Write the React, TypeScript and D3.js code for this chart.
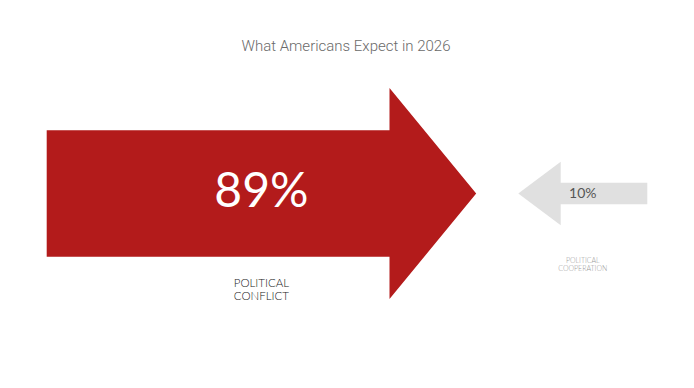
import React from "react";
import * as d3 from "d3";

const title = "What Americans Expect in 2026";
const categories = ["POLITICAL CONFLICT", "POLITICAL COOPERATION"];
const labelLines = [["POLITICAL", "CONFLICT"], ["POLITICAL", "COOPERATION"]];
const values = [89, 10];
const directions = ["right", "left"];
const colors = ["#b31b1b", "#e0e0e0"];

const W = 694;
const H = 388;

export default function App() {
  const ext = d3.extent(values) as [number, number];
  const lengthScale = d3.scaleLinear().domain(ext).range([129, 429.5]);
  const thickScale = d3.scaleLinear().domain(ext).range([21.6, 126.7]);
  const headHScale = d3.scaleLinear().domain(ext).range([63.3, 211]);
  const headLScale = d3.scaleLinear().domain(ext).range([42.4, 86.7]);
  const cy = 193.5;
  const anchors = [46.7, 647.3];

  const line = d3.line<[number, number]>();

  const arrows = values.map((v, i) => {
    const dir = directions[i] === "right" ? 1 : -1;
    const x0 = anchors[i];
    const len = lengthScale(v);
    const th = thickScale(v) / 2;
    const hh = headHScale(v) / 2;
    const hl = headLScale(v);
    const tip = x0 + dir * len;
    const base = tip - dir * hl;
    const pts: [number, number][] = [
      [x0, cy - th],
      [base, cy - th],
      [base, cy - hh],
      [tip, cy],
      [base, cy + hh],
      [base, cy + th],
      [x0, cy + th],
    ];
    return { d: line(pts) + "Z", mid: (x0 + tip) / 2, v, i };
  });

  return (
    <svg width={W} height={H} style={{ position: "absolute", left: 0, top: 0, background: "#fff" }}>
      <text x={346} y={51} textAnchor="middle" fontFamily="Roboto, sans-serif" fontWeight={300} fontSize={15} fill="#6a6a6a">
        {title}
      </text>
      {arrows.map((a) => (
        <g key={categories[a.i]}>
          <path d={a.d} fill={colors[a.i]} />
          {a.i === 0 ? (
            <text x={a.mid} y={207} textAnchor="middle" fontFamily="Lato, sans-serif" fontWeight={400} fontSize={48} fill="#ffffff">
              {a.v}%
            </text>
          ) : (
            <text x={a.mid} y={198} textAnchor="middle" fontFamily="Lato, sans-serif" fontWeight={400} fontSize={14} fill="#555">
              {a.v}%
            </text>
          )}
          {labelLines[a.i].map((l, k) =>
            a.i === 0 ? (
              <text key={l} x={a.mid} y={287 + k * 13} textAnchor="middle" fontFamily="Lato, sans-serif" fontWeight={300} fontSize={11.5} fill="#222">
                {l}
              </text>
            ) : (
              <text key={l} x={a.mid} y={263 + k * 8} textAnchor="middle" fontFamily="Lato, sans-serif" fontWeight={300} fontSize={7} fill="#999">
                {l}
              </text>
            )
          )}
        </g>
      ))}
    </svg>
  );
}
